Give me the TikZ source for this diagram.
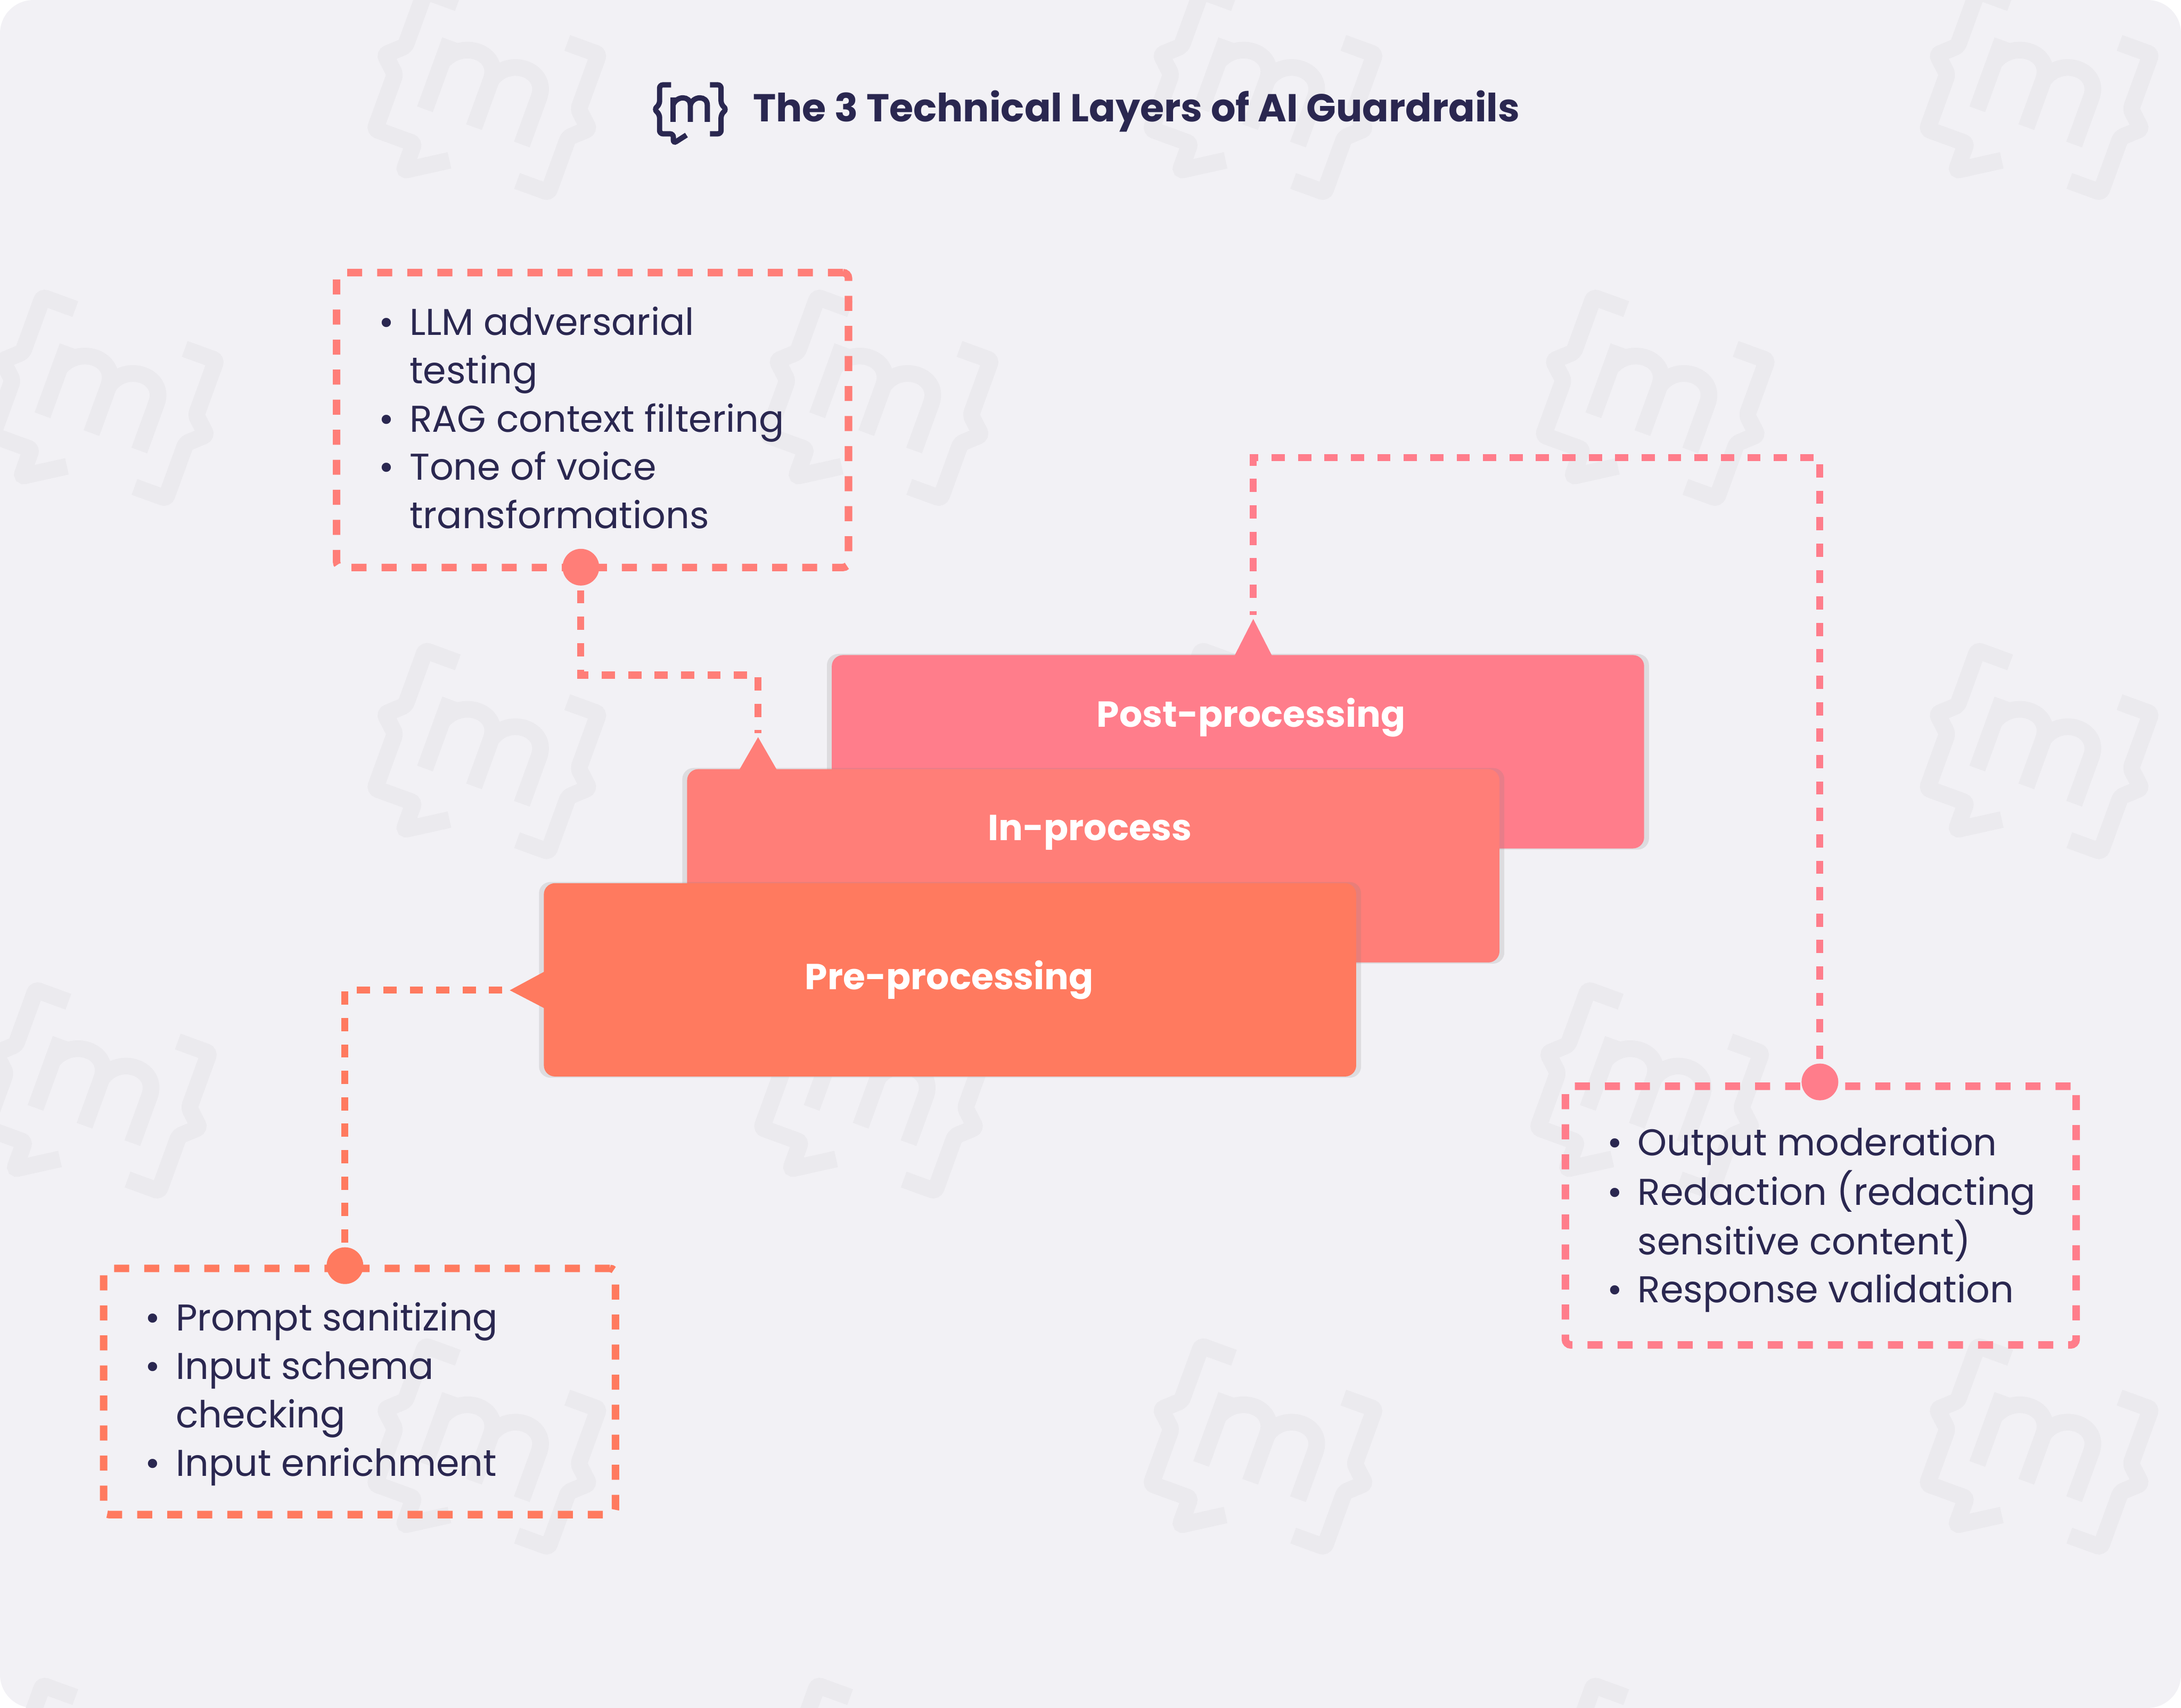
\documentclass[tikz,border=0pt]{standalone}
\usepackage{fontspec}
\setmainfont{Poppins}
\usetikzlibrary{shadows}
\definecolor{pagebg}{HTML}{F2F1F5}
\definecolor{markgray}{HTML}{EBEAEE}
\definecolor{inkblue}{HTML}{2A2750}
\definecolor{postred}{HTML}{FF7D8B}
\definecolor{inred}{HTML}{FF7E78}
\definecolor{preorange}{HTML}{FF7A5F}
\tikzset{
    logomark/.pic={
        \draw[line cap=butt, rounded corners=1.2] (-13.8,-17.6) -- (-22.1,-17.6) -- (-22.1,-3.6) -- (-26,0) -- (-22.1,3.6) -- (-22.1,17.6) -- (-12.2,17.6) -- (-12.2,24.5) -- (-2.8,18.5);
        \draw[line cap=butt, rounded corners=1.2] (14.1,-17.6) -- (22.1,-17.6) -- (22.1,-3.6) -- (26,0) -- (22.1,3.6) -- (22.1,17.6) -- (14.1,17.6);
        \draw (-12.5,9) -- (-12.5,-8.6);
        \draw (-12.5,-3) .. controls (-10,-10) and (0,-10) .. (0,-3) -- (0,9);
        \draw (0,-3) .. controls (2,-10) and (12.2,-10) .. (12.2,-3) -- (12.2,9);
    },
    watermark/.style={draw=markgray, line width=6pt, scale=3, rotate=-20},
    listbox/.style={draw, line width=2.7pt, dash pattern=on 5.4pt off 5.4pt, rounded corners=2pt, inner sep=0pt},
    listtext/.style={anchor=base west, inner sep=0pt, text=inkblue, font=\fontsize{13.4}{17.37}\selectfont},
    layerbox/.style={rounded corners=4pt, minimum width=292pt, minimum height=69.5pt, inner sep=0pt,
        drop shadow={shadow xshift=0pt, shadow yshift=0pt, shadow scale=1.012, opacity=.18}},
    layerlabel/.style={inner sep=0pt, text=white, font=\fontsize{13}{15}\selectfont\bfseries},
    linkdot/.style={circle, minimum size=13.2pt, inner sep=0pt},
    linkline/.style={line width=2.5pt, dash pattern=on 4.75pt off 4.75pt}
}
\begin{document}
\begin{tikzpicture}[x=0.5pt, y=-0.5pt]
    \useasboundingbox (0,0) rectangle (1568,1228);
    \fill[pagebg, rounded corners=12pt] (0,0) rectangle (1568,1228);

    \pic[watermark] at (350,66) {logomark};
    \pic[watermark] at (908,66) {logomark};
    \pic[watermark] at (1466,66) {logomark};
    \pic[watermark] at (75,286) {logomark};
    \pic[watermark] at (632,286) {logomark};
    \pic[watermark] at (1190,286) {logomark};
    \pic[watermark] at (350,540) {logomark};
    \pic[watermark] at (908,540) {logomark};
    \pic[watermark] at (1466,540) {logomark};
    \pic[watermark] at (70,784) {logomark};
    \pic[watermark] at (628,784) {logomark};
    \pic[watermark] at (1186,784) {logomark};
    \pic[watermark] at (350,1040) {logomark};
    \pic[watermark] at (908,1040) {logomark};
    \pic[watermark] at (1466,1040) {logomark};
    \pic[watermark] at (75,1284) {logomark};
    \pic[watermark] at (632,1284) {logomark};
    \pic[watermark] at (1190,1284) {logomark};

    \pic[draw=inkblue, line width=1.9pt] at (496.3,78.6) {logomark};
    \node[anchor=west, inner sep=0pt, text=inkblue, font=\fontsize{14}{17}\selectfont\bfseries] (titleText) at (541,80) {The 3 Technical Layers of AI Guardrails};

    \node[layerbox, fill=postred] (postLayer) at (890,540.5) {};
    \node[layerbox, fill=inred] (inLayer) at (786,622.5) {};
    \node[layerbox, fill=preorange] (preLayer) at (683,704.5) {};
    \node[layerlabel] (postLabel) at (899.5,516) {Post-processing};
    \node[layerlabel] (inLabel) at (783.5,598.5) {In-process};
    \node[layerlabel] (preLabel) at (682.5,704.5) {Pre-processing};

    \coordinate (postTip) at (901,445);
    \coordinate (inTip) at (545,530);
    \coordinate (preTip) at (366.5,712);
    \fill[postred] (postTip) -- (914.5,471.5) -- (887.5,471.5) -- cycle;
    \fill[inred] (inTip) -- (558.5,553.5) -- (531.5,553.5) -- cycle;
    \fill[preorange] (preTip) -- (391.5,698.5) -- (391.5,725) -- cycle;

    \node[listbox, draw=inred, minimum width=184pt, minimum height=106pt] (llmBox) at (426,302) {};
    \node[listbox, draw=preorange, minimum width=184pt, minimum height=88.5pt] (promptBox) at (258.5,1000.5) {};
    \node[listbox, draw=postred, minimum width=183.6pt, minimum height=93pt] (outputBox) at (1309,874) {};

    \node[linkdot, fill=inred] (llmDot) at (417.6,407.8) {};
    \node[linkdot, fill=preorange] (promptDot) at (248,910) {};
    \node[linkdot, fill=postred] (outputDot) at (1308.4,777.9) {};

    \draw[linkline, draw=inred, shorten >=1.5pt, shorten <=1.5pt] (llmDot.south) -- (llmDot.south |- 0,485.4) -- (inTip |- 0,485.4) -- (inTip);
    \draw[linkline, draw=preorange, shorten >=1.5pt, shorten <=1.5pt] (promptDot.north) -- (promptDot.north |- preTip) -- (preTip);
    \draw[linkline, draw=postred, shorten >=1.5pt, shorten <=1.5pt] (outputDot.north) -- (outputDot.north |- 0,329) -- (postTip |- 0,329) -- (postTip);

    \node[listtext] (llmList) at (272,241) {\begin{tabular}[t]{@{}l@{\hspace{5.5pt}}l@{}}
        \textbullet & LLM adversarial\\
        & testing\\
        \textbullet & RAG context filtering\\
        \textbullet & Tone of voice\\
        & transformations
    \end{tabular}};
    \node[listtext] (promptList) at (104,957) {\begin{tabular}[t]{@{}l@{\hspace{5.5pt}}l@{}}
        \textbullet & Prompt sanitizing\\
        \textbullet & Input schema\\
        & checking\\
        \textbullet & Input enrichment
    \end{tabular}};
    \node[listtext] (outputList) at (1155,831) {\begin{tabular}[t]{@{}l@{\hspace{5.5pt}}l@{}}
        \textbullet & Output moderation\\
        \textbullet & Redaction (redacting\\
        & sensitive content)\\
        \textbullet & Response validation
    \end{tabular}};
\end{tikzpicture}
\end{document}
